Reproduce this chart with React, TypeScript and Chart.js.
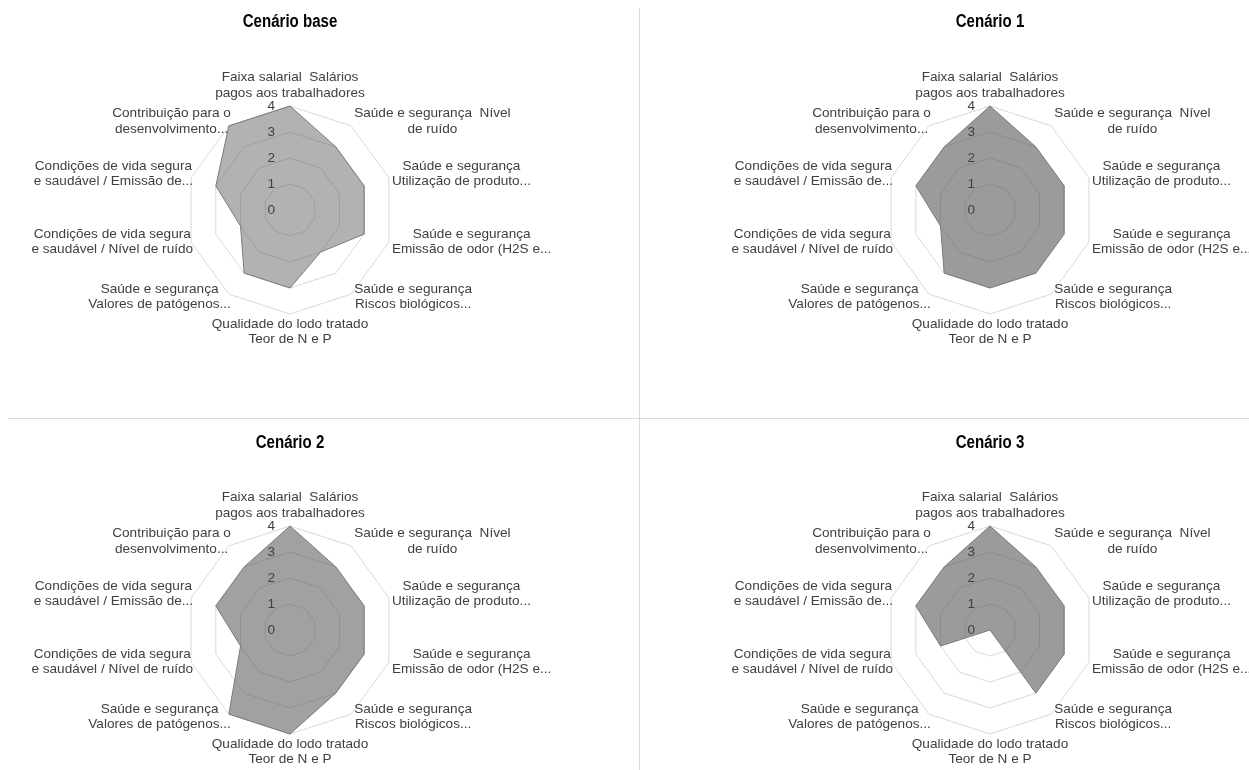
import React, { useEffect, useRef } from "react";
import { Chart, registerables } from "chart.js";

Chart.register(...registerables);

// ---------- DATA ----------
const categories: string[][] = [
  ["Faixa salarial  Salários", "pagos aos trabalhadores"],
  ["Saúde e segurança  Nível", "de ruído"],
  ["Saúde e segurança", "Utilização de produto..."],
  ["Saúde e segurança", "Emissão de odor (H2S e..."],
  ["Saúde e segurança", "Riscos biológicos..."],
  ["Qualidade do lodo tratado", "Teor de N e P"],
  ["Saúde e segurança", "Valores de patógenos..."],
  ["Condições de vida segura", "e saudável / Nível de ruído"],
  ["Condições de vida segura", "e saudável / Emissão de..."],
  ["Contribuição para o", "desenvolvimento..."],
];

const scenarioTitles = ["Cenário base", "Cenário 1", "Cenário 2", "Cenário 3"];

const cenarioBase = [4, 3, 3, 3, 2, 3, 3, 2, 3, 4];
const cenario1 = [4, 3, 3, 3, 3, 3, 3, 2, 3, 3];
const cenario2 = [4, 3, 3, 3, 3, 4, 4, 2, 3, 3];
const cenario3 = [4, 3, 3, 3, 3, 0, 0, 2, 3, 3];

const tickValues = [0, 1, 2, 3, 4];

// ---------- STYLE / LAYOUT ----------
const FONT = '"Liberation Sans", Arial, Helvetica, sans-serif';
const RADIUS = 104;
const GRID = "#d9d9d9";
const TEXT = "#404040";

type Panel = {
  title: string;
  values: number[];
  fill: string;
  left: number;
  top: number;
  width: number;
  height: number;
  cx: number;
  cy: number;
  titleY: number;
};

const panels: Panel[] = [
  { title: scenarioTitles[0], values: cenarioBase, fill: "rgba(90,88,88,0.46)", left: 0, top: 0, width: 639, height: 418, cx: 290, cy: 210, titleY: 22 },
  { title: scenarioTitles[1], values: cenario1, fill: "rgba(90,88,88,0.60)", left: 640, top: 0, width: 609, height: 418, cx: 990, cy: 210, titleY: 22 },
  { title: scenarioTitles[2], values: cenario2, fill: "rgba(90,88,88,0.56)", left: 0, top: 419, width: 639, height: 351, cx: 290, cy: 630, titleY: 443 },
  { title: scenarioTitles[3], values: cenario3, fill: "rgba(90,88,88,0.60)", left: 640, top: 419, width: 609, height: 351, cx: 990, cy: 630, titleY: 443 },
];

function RadarPanel({ p }: { p: Panel }) {
  const ref = useRef<HTMLCanvasElement | null>(null);

  useEffect(() => {
    const canvas = ref.current;
    if (!canvas) return;
    const lcx = p.cx - p.left;
    const lcy = p.cy - p.top;

    const labelsPlugin = {
      id: "customLabels",
      afterDraw(chart: any) {
        const ctx: CanvasRenderingContext2D = chart.ctx;
        const scale = chart.scales.r;
        const cx = scale.xCenter;
        const cy = scale.yCenter;
        ctx.save();

        // title (slightly condensed bold, like the original)
        ctx.save();
        ctx.fillStyle = "#000000";
        ctx.font = `bold 17.5px ${FONT}`;
        ctx.textAlign = "center";
        ctx.textBaseline = "middle";
        ctx.translate(cx, p.titleY - p.top);
        ctx.scale(0.86, 1);
        ctx.fillText(p.title, 0, 0);
        ctx.restore();

        // tick labels
        ctx.font = `13.6px ${FONT}`;
        ctx.fillStyle = TEXT;
        ctx.textAlign = "right";
        ctx.textBaseline = "middle";
        tickValues.forEach((v) => {
          const d = scale.getDistanceFromCenterForValue(v);
          ctx.fillText(String(v), cx - 15, cy - d);
        });

        // point labels (centered lines within block, like the original)
        const lh = 15.3;
        ctx.textAlign = "center";
        const outer = scale.getDistanceFromCenterForValue(4);
        categories.forEach((lines, i) => {
          const pt = scale.getPointPosition(i, outer);
          const w = Math.max(...lines.map((l) => ctx.measureText(l).width));
          let bx: number;
          let vc: number;
          const n = lines.length;
          if (i === 0) {
            bx = pt.x;
            vc = pt.y - 13 - ((n - 1) * lh) / 2;
          } else if (i === 5) {
            bx = pt.x;
            vc = pt.y + 10 + ((n - 1) * lh) / 2;
          } else {
            const right = pt.x > cx;
            bx = right ? pt.x + 3 + w / 2 : pt.x + 2 - w / 2;
            const dy = pt.y - cy;
            let off: number;
            if (dy < -50) off = -4.5;
            else if (dy < 0) off = -4.2;
            else if (dy < 50) off = -0.5;
            else off = 2.5;
            vc = pt.y + off;
          }
          lines.forEach((l, k) => {
            const y = vc + (k - (n - 1) / 2) * lh;
            ctx.fillText(l, bx, y);
          });
        });
        ctx.restore();
      },
    };

    const chart = new Chart(canvas, {
      type: "radar",
      data: {
        labels: categories.map((c) => c.join(" ")),
        datasets: [
          {
            data: p.values,
            backgroundColor: p.fill,
            borderColor: "#7a7a7a",
            borderWidth: 1,
            pointRadius: 0,
            pointHoverRadius: 0,
            fill: true,
          },
        ],
      },
      options: {
        responsive: false,
        animation: false,
        layout: {
          padding: {
            left: lcx - RADIUS,
            top: lcy - RADIUS,
            right: p.width - (lcx + RADIUS),
            bottom: p.height - (lcy + RADIUS),
          },
        },
        plugins: {
          legend: { display: false },
          tooltip: { enabled: false },
          title: { display: false },
        },
        scales: {
          r: {
            min: 0,
            max: 4,
            ticks: { stepSize: 1, display: false },
            grid: { color: GRID, lineWidth: 1, circular: false },
            angleLines: { display: false },
            pointLabels: { display: false },
          },
        },
      } as any,
      plugins: [labelsPlugin],
    });
    return () => chart.destroy();
  }, [p]);

  return (
    <canvas
      ref={ref}
      width={p.width}
      height={p.height}
      style={{ position: "absolute", left: p.left, top: p.top, width: p.width, height: p.height }}
    />
  );
}

export default function App() {
  return (
    <div
      style={{
        position: "fixed",
        left: 0,
        top: 0,
        width: 1249,
        height: 770,
        background: "#ffffff",
        overflow: "hidden",
      }}
    >
      {panels.map((p) => (
        <RadarPanel key={p.title} p={p} />
      ))}
      <div style={{ position: "absolute", left: 639, top: 8, width: 1, height: 762, background: GRID }} />
      <div style={{ position: "absolute", left: 8, top: 418, width: 1241, height: 1, background: GRID }} />
    </div>
  );
}
